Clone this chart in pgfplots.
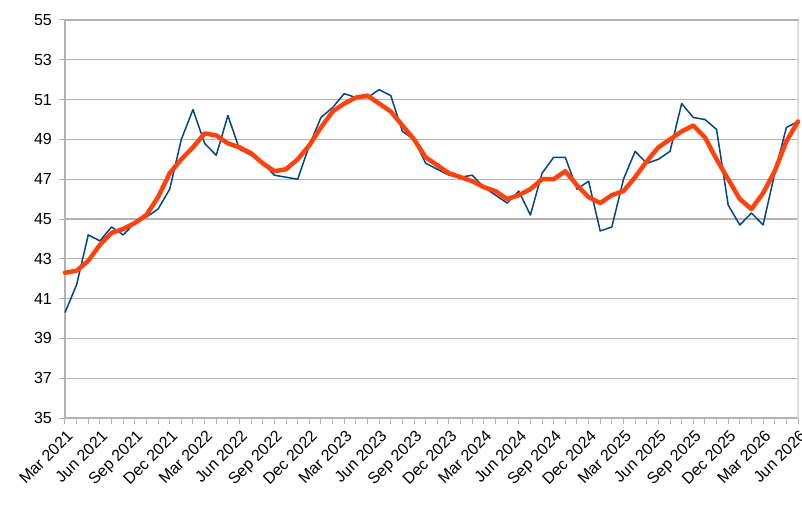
\documentclass[border=0pt]{standalone}
\usepackage{pgfplots}
\pgfplotsset{compat=1.18}
\usepackage{fontspec}
\setmainfont{Liberation Sans}
\definecolor{sblue}{HTML}{004586}
\definecolor{sorange}{HTML}{FF420E}
\definecolor{gridgray}{HTML}{B3B3B3}
\definecolor{lightgray2}{HTML}{DDDDDD}
\pgfplotstableread{
i v
0 40.3
1 41.7
2 44.2
3 43.9
4 44.6
5 44.2
6 44.8
7 45.1
8 45.5
9 46.5
10 49.0
11 50.5
12 48.8
13 48.2
14 50.2
15 48.5
16 48.2
17 47.8
18 47.2
19 47.1
20 47.0
21 48.7
22 50.1
23 50.6
24 51.3
25 51.1
26 51.1
27 51.5
28 51.2
29 49.4
30 49.0
31 47.8
32 47.5
33 47.2
34 47.1
35 47.2
36 46.6
37 46.2
38 45.8
39 46.4
40 45.2
41 47.3
42 48.1
43 48.1
44 46.5
45 46.9
46 44.4
47 44.6
48 47.0
49 48.4
50 47.8
51 48.0
52 48.4
53 50.8
54 50.1
55 50.0
56 49.5
57 45.7
58 44.7
59 45.3
60 44.7
61 47.3
62 49.6
63 49.9
}\bluedata
\pgfplotstableread{
i v
0 42.3
1 42.4
2 42.9
3 43.7
4 44.3
5 44.5
6 44.8
7 45.2
8 46.1
9 47.3
10 48.0
11 48.6
12 49.3
13 49.2
14 48.8
15 48.6
16 48.3
17 47.8
18 47.4
19 47.5
20 48.0
21 48.7
22 49.6
23 50.4
24 50.8
25 51.1
26 51.2
27 50.8
28 50.4
29 49.7
30 49.0
31 48.1
32 47.7
33 47.3
34 47.1
35 46.9
36 46.6
37 46.4
38 46.0
39 46.2
40 46.5
41 47.0
42 47.0
43 47.4
44 46.7
45 46.1
46 45.8
47 46.2
48 46.4
49 47.1
50 47.9
51 48.6
52 49.0
53 49.4
54 49.7
55 49.1
56 48.0
57 47.0
58 46.0
59 45.5
60 46.3
61 47.4
62 48.9
63 49.9
}\orangedata
\begin{document}
\fontsize{16bp}{19bp}\selectfont
\begin{tikzpicture}
\begin{axis}[
 name=ax,
 scale only axis, width=733bp, height=398bp,
 xmin=0, xmax=63, ymin=35, ymax=55,
 ytick={35,37,...,55},
 xtick={0,3,...,63},
 minor xtick={0,...,63},
 xticklabels={Mar 2021,Jun 2021,Sep 2021,Dec 2021,Mar 2022,Jun 2022,Sep 2022,Dec 2022,Mar 2023,Jun 2023,Sep 2023,Dec 2023,Mar 2024,Jun 2024,Sep 2024,Dec 2024,Mar 2025,Jun 2025,Sep 2025,Dec 2025,Mar 2026,Jun 2026},
 xtick pos=lower, ytick pos=left, tick align=outside,
 major tick length=6bp, minor tick length=6bp,
 tick style={gridgray, line width=1bp},
 ymajorgrids, grid style={gridgray, line width=1.2bp},
 axis line style={gridgray, line width=1.2bp},
 ticklabel style={font=\fontsize{16bp}{19bp}\selectfont},
 /pgf/number format/assume math mode=true,
 xticklabel style={rotate=45, anchor=north east, inner sep=1bp, yshift=-3bp, xshift=-2bp},
 yticklabel style={anchor=east, inner sep=2bp, xshift=-5bp},
 clip=false,
]
\draw[lightgray2, line width=1.2bp] (rel axis cs:1,0) -- (rel axis cs:1,1);
\draw[gridgray, line width=1.2bp] (rel axis cs:0,1) -- (rel axis cs:1,1);
\addplot[sblue, line width=1.5bp, line join=round, mark=none] table[x=i, y=v] {\bluedata};
\addplot[sorange, line width=4.5bp, line join=round, line cap=round, mark=none] table[x=i, y=v] {\orangedata};
\end{axis}
\pgfresetboundingbox
\path[use as bounding box] ([shift={(-65bp,-92bp)}]ax.south west) rectangle ([shift={(4bp,20bp)}]ax.north east);
\end{tikzpicture}
\end{document}
